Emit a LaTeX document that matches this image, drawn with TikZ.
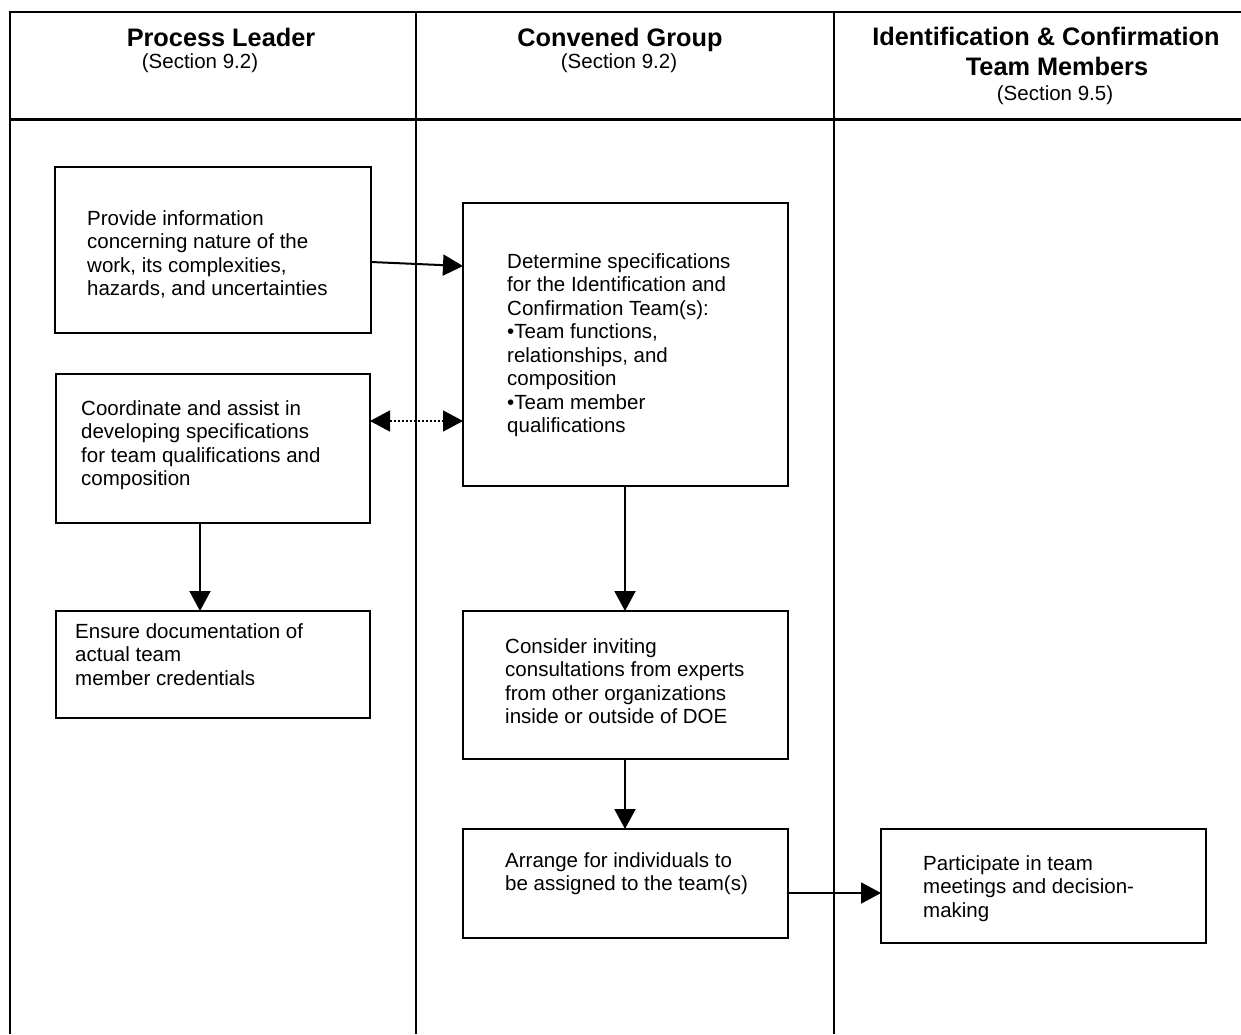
\documentclass[tikz,border=0pt]{standalone}
\usepackage{fontspec}
\setmainfont{Liberation Sans}
\usetikzlibrary{arrows.meta,calc}
\tikzset{
  frame/.style={line width=2pt, black},
  hline/.style={line width=3pt, black},
  box/.style={draw, line width=2pt, anchor=north west, inner sep=0pt, outer sep=0pt},
  txt/.style={align=left, anchor=base west, inner sep=0pt, font=\fontsize{20.5}{23.5}\selectfont},
  title/.style={anchor=base, inner sep=0pt, font=\fontsize{25.3}{30}\selectfont\bfseries},
  sect/.style={anchor=base, inner sep=0pt, font=\fontsize{20.5}{23.5}\selectfont},
  arr/.style={line width=2pt, -{Triangle[length=20pt,width=21pt]}},
  darr/.style={line width=1.5pt, dash pattern=on 2pt off 2pt, {Triangle[length=20pt,width=21pt]}-{Triangle[length=20pt,width=21pt]}}
}
\begin{document}
\begin{tikzpicture}[x=1pt,y=-1pt]
\useasboundingbox (0,0) rectangle (1241,1034);
% frame
\draw[frame] (10,1034) -- (10,12) -- (1241,12);
\draw[hline] (10,119) -- (1241,119);
\draw[frame] (416,12) -- (416,1034);
\draw[frame] (834,12) -- (834,1034);
% headers
\node[title] (h1) at (221,46) {Process Leader};
\node[sect] (s1) at (200,68) {(Section 9.2)};
\node[title] (h2) at (620,46) {Convened Group};
\node[sect] (s2) at (619,68) {(Section 9.2)};
\node[title] (h3a) at (1046,45) {Identification \& Confirmation};
\node[title] (h3b) at (1057,75) {Team Members};
\node[sect] (s3) at (1055,100) {(Section 9.5)};
% boxes
\node[box, minimum width=316pt, minimum height=166pt] (b1) at (55,167) {};
\node[box, minimum width=325pt, minimum height=283pt] (b2) at (463,203) {};
\node[box, minimum width=314pt, minimum height=149pt] (b3) at (56,374) {};
\node[box, minimum width=314pt, minimum height=107pt] (b4) at (56,611) {};
\node[box, minimum width=325pt, minimum height=148pt] (b5) at (463,611) {};
\node[box, minimum width=325pt, minimum height=109pt] (b6) at (463,829) {};
\node[box, minimum width=325pt, minimum height=114pt] (b7) at (881,829) {};
% texts (anchored at the baseline of their last line)
\node[txt] (t1) at (87,295.5) {Provide information\\concerning nature of the\\work, its complexities,\\hazards, and uncertainties};
\node[txt] (t2) at (507,432.5) {Determine specifications\\for the Identification and\\Confirmation Team(s):\\•Team functions,\\relationships, and\\composition\\•Team member\\qualifications};
\node[txt] (t3) at (81,485.5) {Coordinate and assist in\\developing specifications\\for team qualifications and\\composition};
\node[txt] (t4) at (75,685) {Ensure documentation of\\actual team\\member credentials};
\node[txt] (t5) at (505,723.5) {Consider inviting\\consultations from experts\\from other organizations\\inside or outside of DOE};
\node[txt] (t6) at (505,890.5) {Arrange for individuals to\\be assigned to the team(s)};
\node[txt] (t7) at (923,917) {Participate in team\\meetings and decision-\\making};
% connector helpers
\coordinate (ya) at (0,262);
\coordinate (yb) at (0,266);
\coordinate (yd) at (0,421);
\coordinate (ye) at (0,893);
\coordinate (xa) at (200,0);
\coordinate (xb) at (625,0);
% connectors
\draw[arr] (b1.east |- ya) -- (b2.west |- yb);
\draw[darr] (b3.east |- yd) -- (b2.west |- yd);
\draw[arr] (b3.south -| xa) -- (b4.north -| xa);
\draw[arr] (b2.south -| xb) -- (b5.north -| xb);
\draw[arr] (b5.south -| xb) -- (b6.north -| xb);
\draw[arr] (b6.east |- ye) -- (b7.west |- ye);
\end{tikzpicture}
\end{document}
